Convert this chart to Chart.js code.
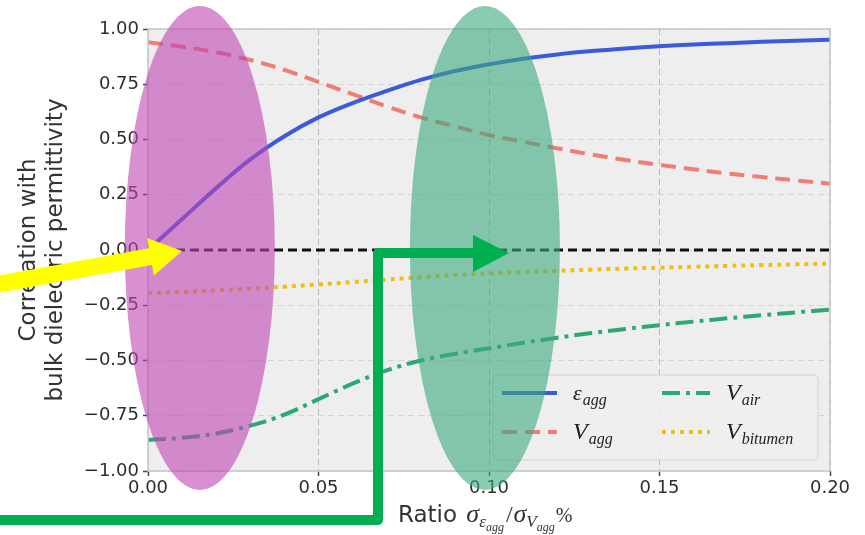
<!DOCTYPE html>
<html>
<head>
<meta charset="utf-8">
<script src="https://cdn.jsdelivr.net/npm/chart.js@4.4.0/dist/chart.umd.min.js"></script>
<style>
  html, body { margin: 0; padding: 0; background: #ffffff; }
</style>
</head>
<body>
<canvas id="my-chart" width="865" height="535"></canvas>
<script>
'use strict';

// **** Data ****

let ratio = [0, 0.01, 0.02, 0.03, 0.04, 0.05, 0.06, 0.07, 0.08, 0.09, 0.10,
  0.11, 0.12, 0.13, 0.14, 0.15, 0.16, 0.17, 0.18, 0.19, 0.20];

let epsAgg = [0, 0.14, 0.28, 0.41, 0.515, 0.60, 0.665, 0.72, 0.77, 0.81, 0.84,
  0.865, 0.885, 0.90, 0.912, 0.922, 0.93, 0.936, 0.942, 0.947, 0.951];

let vAgg = [0.94, 0.92, 0.895, 0.86, 0.815, 0.76, 0.705, 0.65, 0.60, 0.56, 0.52,
  0.49, 0.46, 0.432, 0.407, 0.385, 0.365, 0.346, 0.33, 0.315, 0.30];

let vAir = [-0.86, -0.85, -0.83, -0.795, -0.745, -0.675, -0.605, -0.545, -0.50, -0.47, -0.445,
  -0.42, -0.397, -0.376, -0.357, -0.34, -0.324, -0.309, -0.295, -0.282, -0.27];

let vBitumen = [-0.195, -0.19, -0.182, -0.175, -0.166, -0.156, -0.145, -0.134, -0.123, -0.114, -0.106,
  -0.099, -0.094, -0.089, -0.084, -0.08, -0.076, -0.072, -0.068, -0.065, -0.062];

// zero reference line
let zeroX = [0, 0.20];
let zeroY = [0, 0];

let yTicks = [-1, -0.75, -0.5, -0.25, 0, 0.25, 0.5, 0.75, 1];
let xTicks = [0, 0.05, 0.10, 0.15, 0.20];

// legend text: main symbol + subscript
let legendNames = [
  { main: 'ε', sub: 'agg' },
  { main: 'V', sub: 'agg' },
  { main: 'V', sub: 'air' },
  { main: 'V', sub: 'bitumen' }
];

// highlighted x positions (ellipse centres)
let highlightX = [0.0152, 0.0988];

// **** Helpers ****

function toPoints(xs, ys) {
  let pts = [];
  for (let i = 0; i < xs.length; i++) {
    pts.push({ x: xs[i], y: ys[i] });
  }
  return pts;
}

function fmtTick(v) {
  let s = Math.abs(v).toFixed(2);
  return v < -1e-9 ? '\u2212' + s : s;
}

const MATH = '"Liberation Serif", "DejaVu Serif", serif';
const SANS = '"DejaVu Sans", sans-serif';

function drawParts(ctx, x, y, parts) {
  for (let p of parts) {
    ctx.font = p.font;
    ctx.fillText(p.t, x, y + (p.dy || 0));
    x += ctx.measureText(p.t).width + (p.gap || 0);
  }
  return x;
}

// **** Plugins ****

let plotDecor = {
  id: 'plotDecor',
  beforeDraw(chart) {
    let { ctx, chartArea: a } = chart;
    ctx.save();
    ctx.fillStyle = '#eeeeee';
    ctx.fillRect(a.left, a.top, a.right - a.left, a.bottom - a.top);
    ctx.restore();
  },
  afterDatasetsDraw(chart) {
    let { ctx, chartArea: a } = chart;
    ctx.save();
    // frame
    ctx.strokeStyle = '#c6c6c6';
    ctx.lineWidth = 1.5;
    ctx.strokeRect(a.left, a.top, a.right - a.left, a.bottom - a.top);

    // legend box
    let bx = a.right - 337, by = a.bottom - 96, bw = 325, bh = 85;
    ctx.fillStyle = 'rgba(238,238,238,0.9)';
    ctx.strokeStyle = '#d2d2d2';
    ctx.lineWidth = 1;
    ctx.beginPath();
    ctx.roundRect(bx, by, bw, bh, 4);
    ctx.fill();
    ctx.stroke();

    let cols = [bx + 9, bx + 169];
    let rows = [by + 18, by + 57];
    let sets = chart.data.datasets;
    for (let i = 0; i < legendNames.length; i++) {
      let ds = sets[i];
      let hx = cols[Math.floor(i / 2)];
      let hy = rows[i % 2];
      let hw = i < 2 ? 55 : 48;
      ctx.strokeStyle = ds.borderColor;
      ctx.lineWidth = ds.borderWidth;
      ctx.setLineDash(ds.borderDash || []);
      ctx.beginPath();
      ctx.moveTo(hx, hy);
      ctx.lineTo(hx + hw, hy);
      ctx.stroke();
      ctx.setLineDash([]);

      ctx.fillStyle = '#222222';
      ctx.textBaseline = 'alphabetic';
      let n = legendNames[i];
      drawParts(ctx, hx + hw + 16, hy + 7, [
        { t: n.main, font: 'italic ' + (n.main === 'ε' ? 22 : 24) + 'px ' + MATH, gap: 1 },
        { t: n.sub, font: 'italic 16px ' + MATH, dy: 5 }
      ]);
    }
    ctx.restore();
  },
  afterDraw(chart) {
    let { ctx, chartArea: a, scales } = chart;
    let midY = (a.top + a.bottom) / 2;
    ctx.save();

    // axis titles
    ctx.fillStyle = '#333333';
    ctx.textAlign = 'center';
    ctx.textBaseline = 'middle';
    ctx.font = '23px ' + SANS;
    ctx.translate(0, midY);
    ctx.rotate(-Math.PI / 2);
    ctx.fillText('Correlation with', 0, 29);
    ctx.fillText('bulk dielectric permittivity', 0, 56);
    ctx.setTransform(1, 0, 0, 1, 0, 0);

    ctx.textAlign = 'left';
    ctx.textBaseline = 'alphabetic';
    drawParts(ctx, 398, 522, [
      { t: 'Ratio ', font: '23px ' + SANS, gap: 2 },
      { t: 'σ', font: 'italic 26px ' + MATH },
      { t: 'ε', font: 'italic 17px ' + MATH, dy: 5 },
      { t: 'agg', font: 'italic 12px ' + MATH, dy: 9, gap: 2 },
      { t: '/', font: '24px ' + MATH, gap: 1 },
      { t: 'σ', font: 'italic 26px ' + MATH },
      { t: 'V', font: 'italic 17px ' + MATH, dy: 5 },
      { t: 'agg', font: 'italic 12px ' + MATH, dy: 9, gap: 1 },
      { t: '%', font: '20px ' + MATH }
    ]);

    // highlight ellipses
    let ellColors = ['rgba(190,70,180,0.6)', 'rgba(60,170,125,0.6)'];
    for (let i = 0; i < highlightX.length; i++) {
      ctx.fillStyle = ellColors[i];
      ctx.beginPath();
      ctx.ellipse(scales.x.getPixelForValue(highlightX[i]), midY - 2, 75, 242, 0, 0, Math.PI * 2);
      ctx.fill();
    }

    // yellow arrow pointing at the origin
    let tail = { x: -6, y: 285 };
    let tip = { x: 182, y: 251 };
    let dx = tip.x - tail.x, dy = tip.y - tail.y;
    let len = Math.hypot(dx, dy);
    let ux = dx / len, uy = dy / len, nx = -uy, ny = ux;
    let headLen = 32, headW = 19, shaftW = 8.5;
    let bx = tip.x - ux * headLen, by = tip.y - uy * headLen;
    ctx.fillStyle = '#ffff00';
    ctx.beginPath();
    ctx.moveTo(tail.x + nx * shaftW, tail.y + ny * shaftW);
    ctx.lineTo(bx + nx * shaftW, by + ny * shaftW);
    ctx.lineTo(bx + nx * headW, by + ny * headW);
    ctx.lineTo(tip.x, tip.y);
    ctx.lineTo(bx - nx * headW, by - ny * headW);
    ctx.lineTo(bx - nx * shaftW, by - ny * shaftW);
    ctx.lineTo(tail.x - nx * shaftW, tail.y - ny * shaftW);
    ctx.closePath();
    ctx.fill();

    // green elbow arrow
    ctx.strokeStyle = '#00b050';
    ctx.fillStyle = '#00b050';
    ctx.lineWidth = 10;
    ctx.lineJoin = 'round';
    ctx.beginPath();
    ctx.moveTo(-10, 520);
    ctx.lineTo(378, 520);
    ctx.lineTo(378, 253);
    ctx.lineTo(476, 253);
    ctx.stroke();
    ctx.beginPath();
    ctx.moveTo(473, 235);
    ctx.lineTo(509, 253);
    ctx.lineTo(473, 272);
    ctx.closePath();
    ctx.fill();

    ctx.restore();
  }
};

// **** Chart ****

let ctx = document.getElementById('my-chart').getContext('2d');

let myChartObj = {
  type: 'line',
  data: {
    datasets: [
      {
        label: 'eps_agg',
        data: toPoints(ratio, epsAgg),
        borderColor: '#3b5bdb',
        borderWidth: 4,
        borderDash: []
      },
      {
        label: 'V_agg',
        data: toPoints(ratio, vAgg),
        borderColor: '#f27b72',
        borderWidth: 4,
        borderDash: [15, 8]
      },
      {
        label: 'V_air',
        data: toPoints(ratio, vAir),
        borderColor: '#2ea872',
        borderWidth: 4,
        borderDash: [18, 6, 4, 6]
      },
      {
        label: 'V_bitumen',
        data: toPoints(ratio, vBitumen),
        borderColor: '#f2bd12',
        borderWidth: 4,
        borderDash: [4, 5]
      },
      {
        label: 'zero',
        data: toPoints(zeroX, zeroY),
        borderColor: '#111111',
        borderWidth: 3,
        borderDash: [9, 5],
        tension: 0
      }
    ]
  },
  options: {
    responsive: false,
    animation: false,
    devicePixelRatio: 1,
    layout: { padding: { top: 29, right: 35, left: 0, bottom: 0 } },
    elements: {
      point: { radius: 0 },
      line: { tension: 0.4, fill: false, borderCapStyle: 'butt' }
    },
    plugins: {
      legend: { display: false },
      tooltip: { enabled: false }
    },
    scales: {
      x: {
        type: 'linear',
        min: 0,
        max: 0.2,
        afterFit(scale) { scale.height = 64; },
        afterBuildTicks(scale) { scale.ticks = xTicks.map(v => ({ value: v })); },
        border: { display: false, dash: [6, 4] },
        grid: {
          color: '#b9b9b9',
          lineWidth: 1,
          tickLength: 5,
          tickColor: '#444444',
          tickBorderDash: [],
          tickWidth: 1.5
        },
        ticks: {
          padding: 2,
          color: '#2e2e2e',
          font: { family: 'DejaVu Sans', size: 18 },
          maxRotation: 0,
          callback: v => fmtTick(v)
        }
      },
      y: {
        min: -1,
        max: 1,
        afterFit(scale) { scale.width = 148; },
        afterBuildTicks(scale) { scale.ticks = yTicks.map(v => ({ value: v })); },
        border: { display: false, dash: [6, 4] },
        grid: {
          color: '#d4d4d4',
          lineWidth: 1,
          tickLength: 5,
          tickColor: '#444444',
          tickBorderDash: [],
          tickWidth: 1.5
        },
        ticks: {
          padding: 4,
          color: '#2e2e2e',
          font: { family: 'DejaVu Sans', size: 18 },
          callback: v => fmtTick(v)
        }
      }
    }
  },
  plugins: [plotDecor]
};

new Chart(ctx, myChartObj);
</script>
</body>
</html>
